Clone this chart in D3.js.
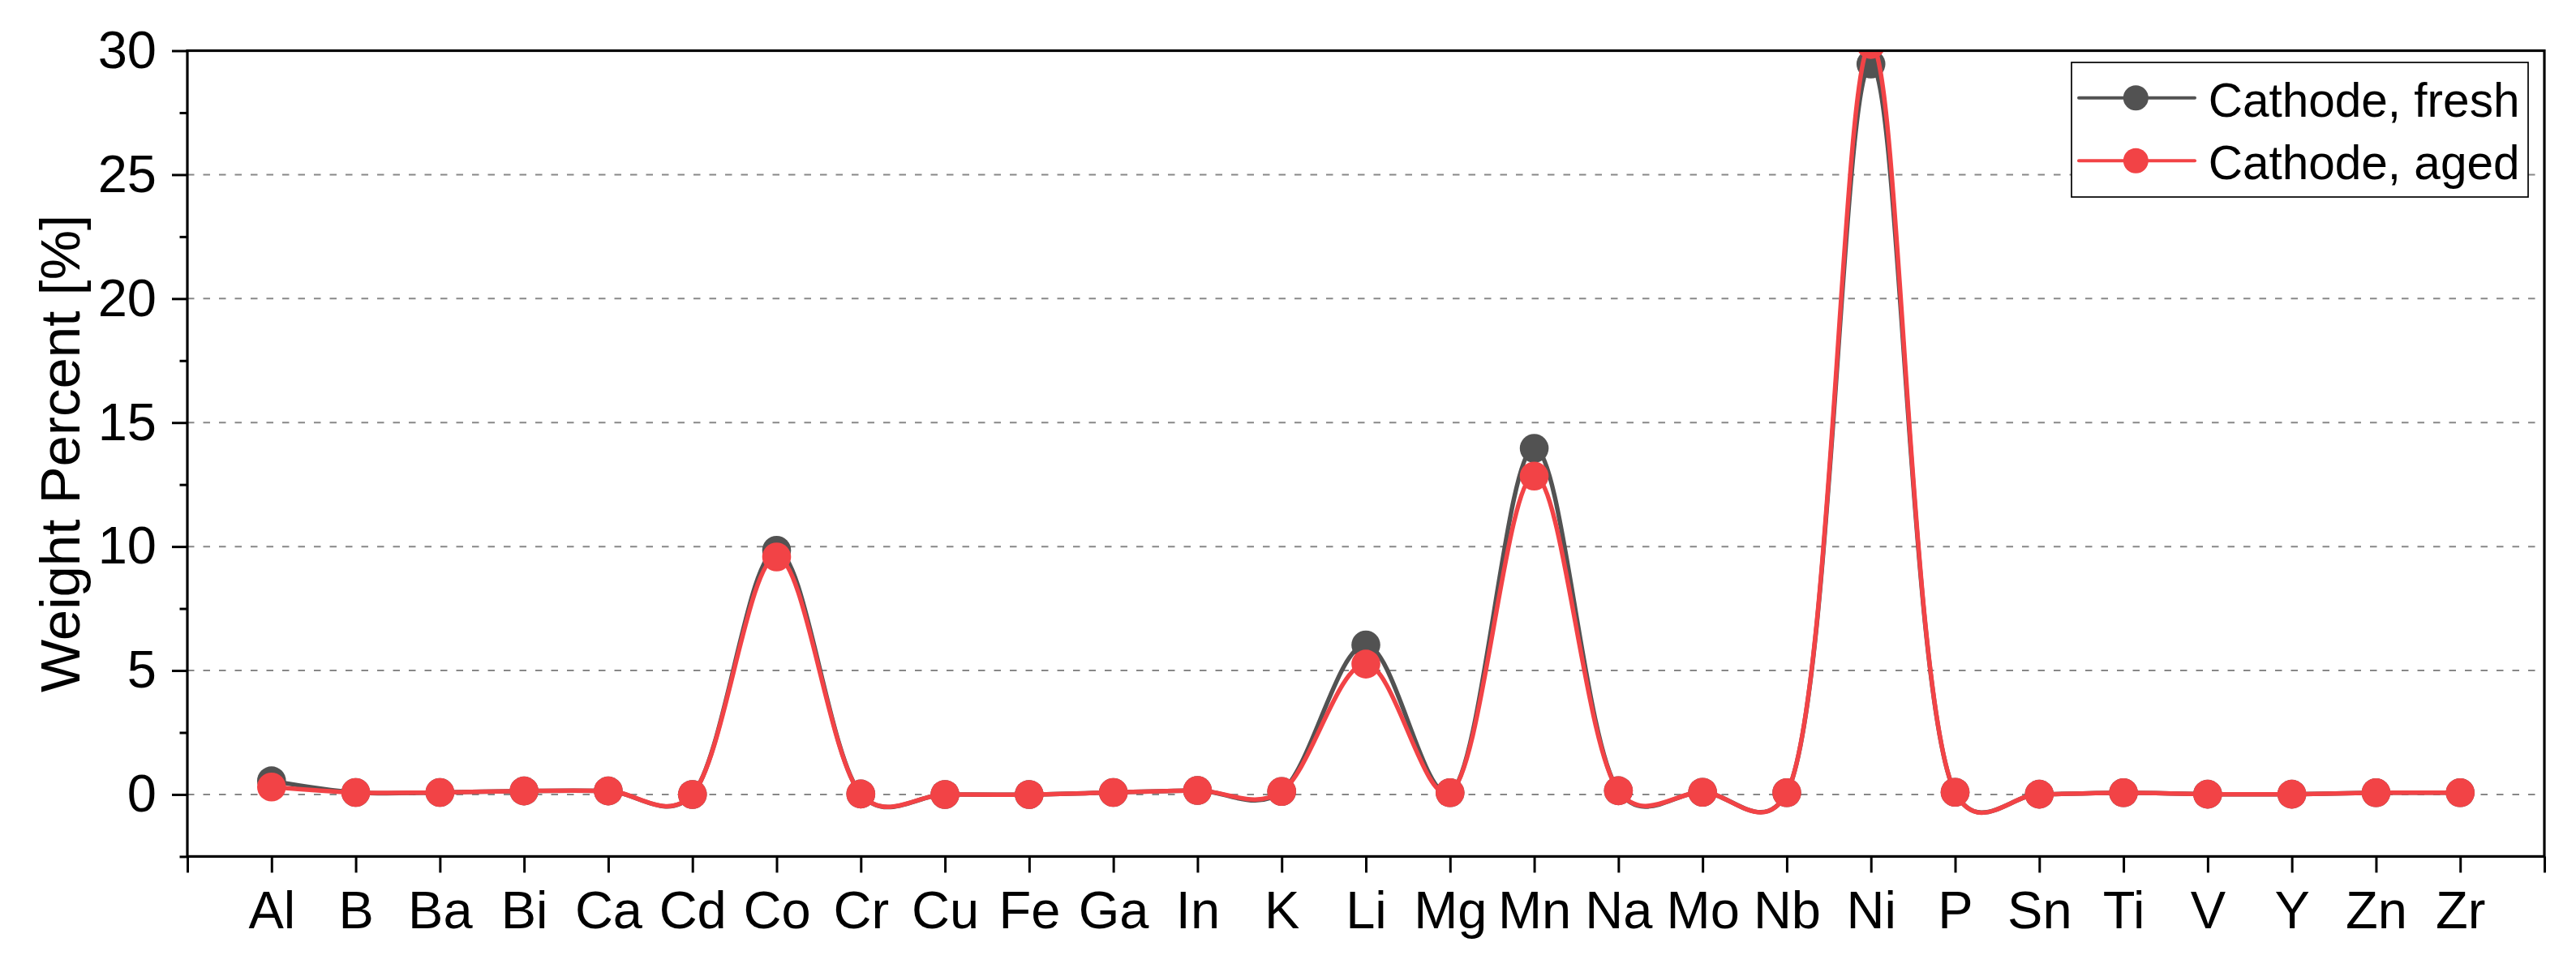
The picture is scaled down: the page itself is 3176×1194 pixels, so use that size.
<!DOCTYPE html>
<html>
<head>
<meta charset="utf-8">
<script src="https://cdn.jsdelivr.net/npm/d3@7"></script>
<style>
  html, body { margin: 0; padding: 0; background: #ffffff; }
  svg { display: block; }
  text { font-family: "Liberation Sans", Arial, sans-serif; fill: #000; }
</style>
</head>
<body>
<svg id="chart" width="3176" height="1194"></svg>
<script>
// ---------------- data ----------------
const categories = ["Al","B","Ba","Bi","Ca","Cd","Co","Cr","Cu","Fe","Ga","In","K","Li","Mg","Mn","Na","Mo","Nb","Ni","P","Sn","Ti","V","Y","Zn","Zr"];
const freshValues = [0.55,0.08,0.08,0.14,0.14,0.0,9.85,0.02,0.0,0.0,0.08,0.16,0.12,6.03,0.07,13.96,0.15,0.09,0.07,29.46,0.09,0.01,0.07,0.01,0.01,0.07,0.07];
const agedValues  = [0.30,0.08,0.08,0.14,0.14,0.0,9.58,0.02,0.0,0.0,0.08,0.16,0.12,5.26,0.07,12.84,0.15,0.09,0.07,30.25,0.09,0.01,0.07,0.01,0.01,0.07,0.07];
const seriesNames = ["Cathode, fresh", "Cathode, aged"];
const seriesColors = ["#525252", "#f24346"];
const yMajorTicks = [0, 5, 10, 15, 20, 25, 30];
const yMinorTicks = [-2.5, 2.5, 7.5, 12.5, 17.5, 22.5, 27.5];
const yTitle = "Weight Percent [%]";

// ---------------- layout ----------------
const W = 3176, H = 1194;
const pL = 231, pR = 3137, pT = 62.5, pB = 1056.4;
const FONT_TICK = 65;

const svg = d3.select("#chart");
svg.append("rect").attr("width", W).attr("height", H).attr("fill", "#fff");

const x = d3.scaleLinear().domain([0, categories.length + 1]).range([pL, pR]);
const y = d3.scaleLinear().domain([-2.5, 30]).range([pB, pT]);

// clip
svg.append("defs").append("clipPath").attr("id", "plotClip")
  .append("rect").attr("x", pL).attr("y", pT).attr("width", pR - pL).attr("height", pB - pT);

// grid
svg.append("g").selectAll("line")
  .data(yMajorTicks.filter(v => v < 30))
  .join("line")
  .attr("x1", pL).attr("x2", pR)
  .attr("y1", d => y(d)).attr("y2", d => y(d))
  .attr("stroke", "#888").attr("stroke-width", 2)
  .attr("stroke-dasharray", "8.5 11");

// curve: centripetal Catmull-Rom computed in x-stretched space
function stretchedCatmull(k, alpha) {
  const base = d3.curveCatmullRom.alpha(alpha);
  return function(context) {
    const proxy = {
      moveTo(a, b) { context.moveTo(a / k, b); },
      lineTo(a, b) { context.lineTo(a / k, b); },
      bezierCurveTo(x1, y1, x2, y2, x3, y3) { context.bezierCurveTo(x1 / k, y1, x2 / k, y2, x3 / k, y3); },
      closePath() { context.closePath(); }
    };
    const c = base(proxy);
    return {
      areaStart() { c.areaStart(); },
      areaEnd() { c.areaEnd(); },
      lineStart() { c.lineStart(); },
      lineEnd() { c.lineEnd(); },
      point(px, py) { c.point(px * k, py); }
    };
  };
}

const line = d3.line()
  .x((d, i) => x(i + 1))
  .y(d => y(d))
  .curve(stretchedCatmull(2.5, 0.5));

const plot = svg.append("g").attr("clip-path", "url(#plotClip)");
[freshValues, agedValues].forEach((vals, s) => {
  const g = plot.append("g");
  g.append("path").datum(vals)
    .attr("d", line)
    .attr("fill", "none")
    .attr("stroke", seriesColors[s])
    .attr("stroke-width", 5.5)
    .attr("stroke-linejoin", "round");
  g.selectAll("circle").data(vals).join("circle")
    .attr("cx", (d, i) => x(i + 1))
    .attr("cy", d => y(d))
    .attr("r", 17.8)
    .attr("fill", seriesColors[s]);
});

// frame
svg.append("rect")
  .attr("x", pL).attr("y", pT).attr("width", pR - pL).attr("height", pB - pT)
  .attr("fill", "none").attr("stroke", "#000").attr("stroke-width", 3.2);

// y axis major
const yAxis = svg.append("g").attr("transform", `translate(${pL},0)`)
  .call(d3.axisLeft(y).tickValues(yMajorTicks).tickSize(19).tickFormat(d3.format("d")));
yAxis.select(".domain").remove();
yAxis.selectAll(".tick line").attr("stroke", "#000").attr("stroke-width", 3);
yAxis.selectAll(".tick text")
  .attr("x", -38)
  .style("font-size", FONT_TICK + "px")
  .style("font-family", "'Liberation Sans', Arial, sans-serif");

// y axis minor
const yMinor = svg.append("g").attr("transform", `translate(${pL},0)`)
  .call(d3.axisLeft(y).tickValues(yMinorTicks).tickSize(9.5).tickFormat(""));
yMinor.select(".domain").remove();
yMinor.selectAll(".tick line").attr("stroke", "#000").attr("stroke-width", 3);

// x axis
const xAxis = svg.append("g").attr("transform", `translate(0,${pB})`)
  .call(d3.axisBottom(x).tickValues(d3.range(0, categories.length + 2)).tickSize(20)
    .tickFormat(i => categories[i - 1] || ""));
xAxis.select(".domain").remove();
xAxis.selectAll(".tick line").attr("stroke", "#000").attr("stroke-width", 3);
xAxis.selectAll(".tick text")
  .attr("y", 88.6).attr("dy", 0)
  .style("font-size", FONT_TICK + "px")
  .style("font-family", "'Liberation Sans', Arial, sans-serif");

// y title
svg.append("text")
  .attr("transform", `translate(97.5, ${(pT + pB) / 2}) rotate(-90)`)
  .attr("text-anchor", "middle")
  .style("font-size", "69px")
  .text(yTitle);

// legend
const lg = svg.append("g");
lg.append("rect")
  .attr("x", 2554).attr("y", 77).attr("width", 3117 - 2554).attr("height", 243 - 77)
  .attr("fill", "#fff").attr("stroke", "#000").attr("stroke-width", 1.7);
const legendRows = [120.7, 198.3];
seriesNames.forEach((name, s) => {
  const cy = legendRows[s];
  lg.append("line").attr("x1", 2563).attr("x2", 2706).attr("y1", cy).attr("y2", cy)
    .attr("stroke", seriesColors[s]).attr("stroke-width", 4).attr("stroke-linecap", "round");
  lg.append("circle").attr("cx", 2633.3).attr("cy", cy).attr("r", 15.5).attr("fill", seriesColors[s]);
  lg.append("text").attr("x", 2722.7).attr("y", cy + 22.8)
    .style("font-size", "58.5px").text(name);
});
</script>
</body>
</html>
